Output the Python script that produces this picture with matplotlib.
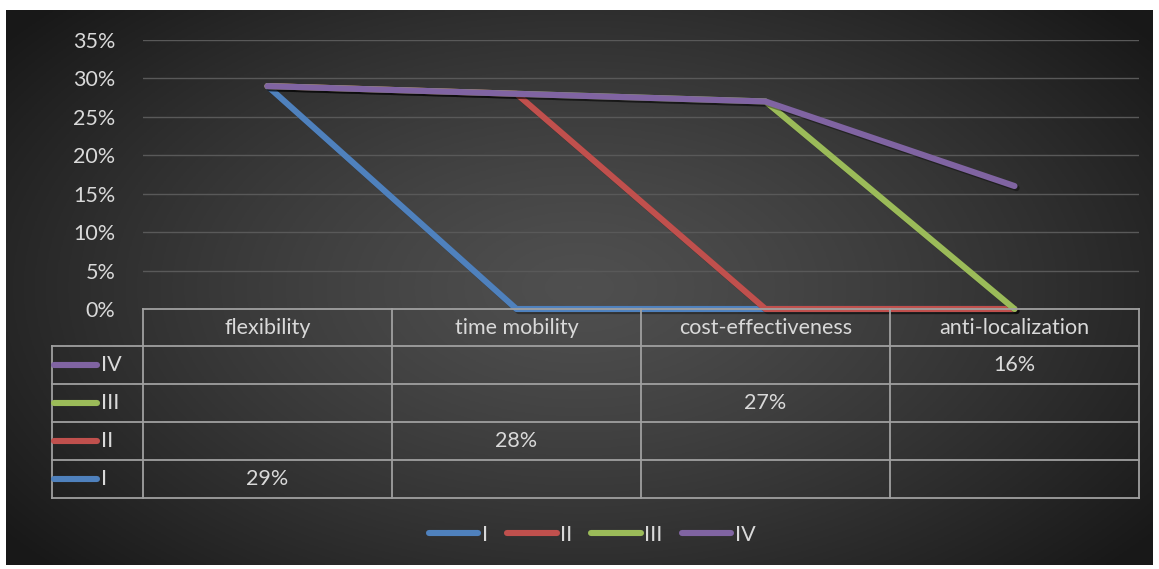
import numpy as np
import matplotlib
matplotlib.use("Agg")
import matplotlib.pyplot as plt
from matplotlib.lines import Line2D
import matplotlib.patheffects as pe

plt.rcParams['font.family'] = ['Lato', 'DejaVu Sans']

categories = ['flexibility', 'time mobility', 'cost-effectiveness', 'anti-localization']
series_names = ['I', 'II', 'III', 'IV']
series_vals = {
    'I':   [0.29, 0.00, 0.00, 0.00],
    'II':  [0.00, 0.28, 0.00, 0.00],
    'III': [0.00, 0.00, 0.27, 0.00],
    'IV':  [0.00, 0.00, 0.00, 0.16],
}
colors = {'I': '#4f81bd', 'II': '#c0504d', 'III': '#9bbb59', 'IV': '#8064a2'}
yticks = [0, 0.05, 0.10, 0.15, 0.20, 0.25, 0.30, 0.35]

W, H = 1159, 569
fig = plt.figure(figsize=(W / 100, H / 100), dpi=100, facecolor='white')

def fx(px):
    return px / W

def fy(px):
    return 1 - px / H

txt_col = '#d9d9d9'
grid_col = '#595959'
tab_col = '#a0a0a0'
fs = 15.5
lw = 4.4

# dark radial-gradient panel
bg = fig.add_axes([fx(6), fy(565), fx(1147), 555 / H])
gx, gy = np.meshgrid(np.linspace(-1, 1, 400), np.linspace(-1, 1, 200))
r = np.clip(np.sqrt((gx * 0.95) ** 2 + (gy * 0.8) ** 2), 0, 1.2)
shade = 0.31 - 0.17 * r ** 1.3
bg.imshow(np.dstack([shade] * 3).clip(0, 1), aspect='auto', extent=[0, 1, 0, 1])
bg.set_axis_off()

# plot area
left, right, top, bottom = 143, 1139, 40, 309
ax = fig.add_axes([fx(left), fy(bottom), fx(right - left), (bottom - top) / H])
ax.patch.set_alpha(0)
ax.set_xlim(-0.5, len(categories) - 0.5)
ax.set_ylim(0, 0.35)
ax.set_yticks(yticks)
ax.set_yticklabels([f'{t:.0%}' for t in yticks], color=txt_col, fontsize=fs)
ax.set_xticks([])
ax.tick_params(axis='y', length=0, pad=20)
for s in ax.spines.values():
    s.set_visible(False)
ax.grid(axis='y', color=grid_col, lw=1)
ax.set_axisbelow(True)

# stacked lines
x = np.arange(len(categories))
cum = np.zeros(len(categories))
shadow = [pe.SimpleLineShadow(offset=(1.5, -1.5), shadow_color='black', alpha=0.35), pe.Normal()]
for name in series_names:
    cum = cum + np.array(series_vals[name])
    ax.plot(x, cum, color=colors[name], lw=lw, solid_capstyle='round',
            solid_joinstyle='round', path_effects=shadow, clip_on=False, zorder=3)

# data table under the plot
col_edges = [left + (right - left) * i / len(categories) for i in range(len(categories) + 1)]
row_edges = [309, 346, 384, 422, 460, 498]
label_left = 52

def hline(y, x0, x1):
    fig.add_artist(Line2D([fx(x0), fx(x1)], [fy(y), fy(y)], color=tab_col, lw=1.3))

def vline(xp, y0, y1):
    fig.add_artist(Line2D([fx(xp), fx(xp)], [fy(y0), fy(y1)], color=tab_col, lw=1.3))

hline(row_edges[0], col_edges[0], col_edges[-1])
for y in row_edges[1:]:
    hline(y, label_left, col_edges[-1])
for xp in col_edges:
    vline(xp, row_edges[0], row_edges[-1])
vline(label_left, row_edges[1], row_edges[-1])

for i, cat in enumerate(categories):
    cx = (col_edges[i] + col_edges[i + 1]) / 2
    fig.text(fx(cx), fy((row_edges[0] + row_edges[1]) / 2), cat, color=txt_col,
             fontsize=fs, ha='center', va='center')

for r_i, name in enumerate(series_names[::-1]):
    cy = (row_edges[r_i + 1] + row_edges[r_i + 2]) / 2
    fig.add_artist(Line2D([fx(54), fx(97)], [fy(cy), fy(cy)], color=colors[name],
                          lw=lw, solid_capstyle='round'))
    fig.text(fx(101), fy(cy), name, color=txt_col, fontsize=fs, ha='left', va='center')
    for i, v in enumerate(series_vals[name]):
        if v:
            cx = (col_edges[i] + col_edges[i + 1]) / 2
            fig.text(fx(cx), fy(cy), f'{v:.0%}', color=txt_col, fontsize=fs,
                     ha='center', va='center')

# legend along the bottom
handles = [Line2D([], [], color=colors[n], lw=lw, solid_capstyle='round') for n in series_names]
leg = fig.legend(handles, series_names, loc='center', bbox_to_anchor=(fx(592), fy(535)),
                 ncol=4, frameon=False, fontsize=fs, handlelength=2.3,
                 handletextpad=0.15, columnspacing=0.9, labelcolor=txt_col)

fig.savefig('out.png', dpi=100, facecolor='white')
